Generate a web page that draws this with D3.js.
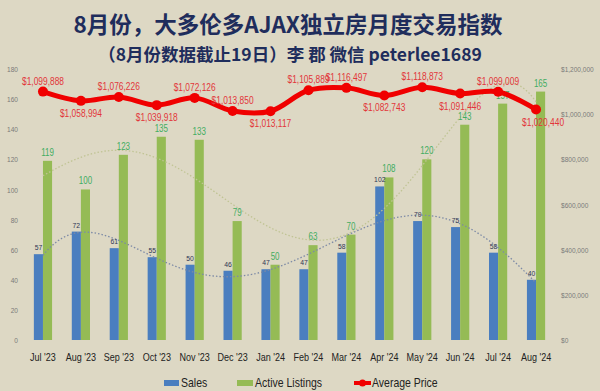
<!DOCTYPE html>
<html>
<head>
<meta charset="utf-8">
<script src="https://cdn.jsdelivr.net/npm/d3@7/dist/d3.min.js"></script>
<style>
  html, body { margin: 0; padding: 0; background: #ddd8c4; }
  svg { display: block; }
</style>
</head>
<body>
<div id="chart"></div>
<script>
// chart data
const months = ["Jul '23", "Aug '23", "Sep '23", "Oct '23", "Nov '23", "Dec '23", "Jan '24",
                "Feb '24", "Mar '24", "Apr '24", "May '24", "Jun '24", "Jul '24", "Aug '24"];
const sales = [57, 72, 61, 55, 50, 46, 47, 47, 58, 102, 79, 75, 58, 40];
const listings = [119, 100, 123, 135, 133, 79, 50, 63, 70, 108, 120, 143, 157, 165];
const prices = [1099888, 1058994, 1076226, 1039918, 1072126, 1013850, 1013117,
                1105889, 1116497, 1082743, 1118873, 1091446, 1099009, 1020440];
const priceLabelSide = ["up", "down", "up", "down", "up", "up", "down",
                        "up", "up", "down", "up", "down", "up", "down"];
const leftTicks = [0, 20, 40, 60, 80, 100, 120, 140, 160, 180];
const rightTicks = [0, 200000, 400000, 600000, 800000, 1000000, 1200000];

const title = "8月份，大多伦多AJAX独立房月度交易指数";
const subtitle = "（8月份数据截止19日）李 郡 微信 peterlee1689";

const width = 600, height = 391;
const sans = "'Liberation Sans', Arial, sans-serif";
const cjk = "'Noto Sans CJK SC', 'Noto Sans', sans-serif";
const squeeze = 0.8; // spreadsheet font is narrower than Liberation Sans

const svg = d3.select("#chart").append("svg")
    .attr("width", width)
    .attr("height", height);

svg.append("rect").attr("width", width).attr("height", height).attr("fill", "#ddd8c4");

// scales
const x = d3.scaleBand().domain(months).range([24, 555]).paddingInner(0.52).paddingOuter(0.26);
const xSub = d3.scaleBand().domain(["sales", "listings"]).range([0, x.bandwidth()]);
const y = d3.scaleLinear().domain([0, 180]).range([340, 69]);
const yPrice = d3.scaleLinear().domain([0, 1200000]).range([340, 69]);
const cx = m => x(m) + x.bandwidth() / 2;
const fmtPrice = d => "$" + d3.format(",")(d);

// narrow text helper: place at (px, py) and squeeze horizontally
const at = (px, py, s = squeeze) => `translate(${px},${py}) scale(${s},1)`;

// titles
svg.append("text")
    .attr("x", 288).attr("y", 33)
    .attr("text-anchor", "middle")
    .attr("font-family", cjk).attr("font-weight", "bold").attr("font-size", 22.5)
    .attr("fill", "#1f2d5c")
    .text(title);
svg.append("text")
    .attr("x", 290).attr("y", 61)
    .attr("text-anchor", "middle")
    .attr("font-family", cjk).attr("font-weight", "bold").attr("font-size", 17.5)
    .attr("fill", "#1f2d5c")
    .text(subtitle);

// axes (labels only)
const leftAxis = svg.append("g")
    .attr("transform", "translate(18,0)")
    .call(d3.axisLeft(y).tickValues(leftTicks).tickSize(0).tickPadding(0));
const rightAxis = svg.append("g")
    .attr("transform", "translate(561,0)")
    .call(d3.axisRight(yPrice).tickValues(rightTicks).tickSize(0).tickPadding(0).tickFormat(fmtPrice));
[leftAxis, rightAxis].forEach(g => {
    g.select(".domain").remove();
    g.selectAll("text").attr("font-family", sans)
        .attr("font-size", 8).attr("fill", "#7a7a7a")
        .attr("transform", "scale(0.82,1)");
});

const xAxis = svg.append("g")
    .attr("transform", "translate(0,353)")
    .call(d3.axisBottom(x).tickSize(0).tickPadding(0));
xAxis.select(".domain").remove();
xAxis.selectAll("text").attr("font-family", sans).attr("font-size", 11).attr("fill", "#222")
    .attr("transform", "scale(0.82,1)");

// bars
svg.append("g").selectAll("rect")
    .data(months)
    .join("rect")
    .attr("x", m => x(m) + xSub("sales"))
    .attr("y", (m, i) => y(sales[i]))
    .attr("width", xSub.bandwidth())
    .attr("height", (m, i) => y(0) - y(sales[i]))
    .attr("fill", "#4a7ebf");
svg.append("g").selectAll("rect")
    .data(months)
    .join("rect")
    .attr("x", m => x(m) + xSub("listings"))
    .attr("y", (m, i) => y(listings[i]))
    .attr("width", xSub.bandwidth())
    .attr("height", (m, i) => y(0) - y(listings[i]))
    .attr("fill", "#95bb55");

// polynomial trendline, least squares on x = 1..n like the spreadsheet
function polyfit(vals, deg) {
    const n = deg + 1;
    const A = Array.from({length: n}, () => new Array(n + 1).fill(0));
    vals.forEach((v, i) => {
        const t = i + 1;
        for (let r = 0; r < n; r++) {
            for (let c = 0; c < n; c++) A[r][c] += Math.pow(t, r + c);
            A[r][n] += v * Math.pow(t, r);
        }
    });
    for (let p = 0; p < n; p++) {
        let best = p;
        for (let r = p + 1; r < n; r++) if (Math.abs(A[r][p]) > Math.abs(A[best][p])) best = r;
        [A[p], A[best]] = [A[best], A[p]];
        for (let r = 0; r < n; r++) {
            if (r === p) continue;
            const f = A[r][p] / A[p][p];
            for (let c = p; c <= n; c++) A[r][c] -= f * A[p][c];
        }
    }
    const coef = A.map((row, i) => row[n] / row[i]);
    return t => coef.reduce((s, c, k) => s + c * Math.pow(t, k), 0);
}

function trend(vals, deg) {
    const f = polyfit(vals, deg);
    const pts = [];
    for (let t = 1; t <= vals.length + 0.001; t += 0.1) {
        pts.push([cx(months[0]) + (t - 1) * x.step(), y(f(t))]);
    }
    return pts;
}

const trendLine = d3.line();
svg.append("path")
    .attr("d", trendLine(trend(listings, 5)))
    .attr("fill", "none").attr("stroke", "#c0c494").attr("stroke-width", 1.3)
    .attr("stroke-dasharray", "1.5,2");
svg.append("path")
    .attr("d", trendLine(trend(sales, 5)))
    .attr("fill", "none").attr("stroke", "#7d8aa6").attr("stroke-width", 1.3)
    .attr("stroke-dasharray", "1.5,2");

// bar labels
svg.append("g").selectAll("text")
    .data(months)
    .join("text")
    .attr("transform", (m, i) => at(x(m) + xSub("sales") + xSub.bandwidth() / 2, y(sales[i]) - 4, 0.85))
    .attr("text-anchor", "middle")
    .attr("font-family", sans).attr("font-size", 8)
    .attr("fill", "#2e3654")
    .text((m, i) => sales[i]);
svg.append("g").selectAll("text")
    .data(months)
    .join("text")
    .attr("transform", (m, i) => at(x(m) + xSub("listings") + xSub.bandwidth() / 2, y(listings[i]) - 5))
    .attr("text-anchor", "middle")
    .attr("font-family", sans).attr("font-size", 10)
    .attr("fill", "#42ad62")
    .text((m, i) => listings[i]);

// average price line
const priceLine = d3.line()
    .x((d, i) => cx(months[i]))
    .y(d => yPrice(d))
    .curve(d3.curveCatmullRom.alpha(0.5));
svg.append("path")
    .datum(prices)
    .attr("d", priceLine)
    .attr("fill", "none").attr("stroke", "#f00000").attr("stroke-width", 5)
    .attr("stroke-linejoin", "round");
svg.append("g").selectAll("circle")
    .data(prices)
    .join("circle")
    .attr("cx", (d, i) => cx(months[i]))
    .attr("cy", d => yPrice(d))
    .attr("r", 5)
    .attr("fill", "#f00000");
svg.append("g").selectAll("text")
    .data(prices)
    .join("text")
    .attr("transform", (d, i) => at(
        cx(months[i]) + (i === prices.length - 1 ? 7 : 0),
        yPrice(d) + (priceLabelSide[i] === "up" ? -7 : 16)))
    .attr("text-anchor", "middle")
    .attr("font-family", sans).attr("font-size", 10.5)
    .attr("fill", "#e2363a")
    .text(fmtPrice);

// legend
const legend = svg.append("g").attr("font-family", sans).attr("font-size", 12.5).attr("fill", "#222");
legend.append("rect").attr("x", 164).attr("y", 380).attr("width", 15).attr("height", 6).attr("fill", "#4a7ebf");
legend.append("text").attr("transform", at(181, 387, 0.84)).text("Sales");
legend.append("rect").attr("x", 237).attr("y", 380).attr("width", 16).attr("height", 6).attr("fill", "#95bb55");
legend.append("text").attr("transform", at(255, 387, 0.84)).text("Active Listings");
legend.append("line").attr("x1", 354).attr("x2", 371).attr("y1", 383).attr("y2", 383)
    .attr("stroke", "#f00000").attr("stroke-width", 4);
legend.append("circle").attr("cx", 362.5).attr("cy", 383).attr("r", 3.5).attr("fill", "#f00000");
legend.append("text").attr("transform", at(372, 387, 0.84)).text("Average Price");
</script>
</body>
</html>
